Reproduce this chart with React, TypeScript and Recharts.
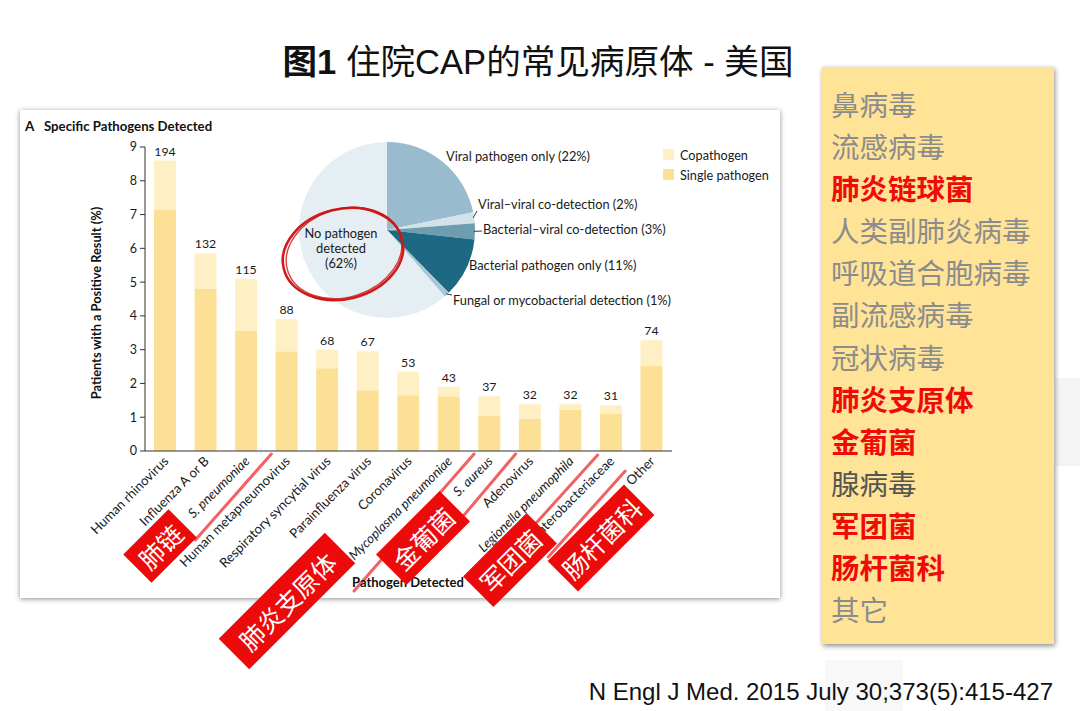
import React from 'react';
import { ComposedChart, Bar, XAxis, YAxis, LabelList, PieChart, Pie, Cell } from 'recharts';

// ---------- data ----------
const categories = [
  'Human rhinovirus',
  'Influenza A or B',
  'S. pneumoniae',
  'Human metapneumovirus',
  'Respiratory syncytial virus',
  'Parainfluenza virus',
  'Coronavirus',
  'Mycoplasma pneumoniae',
  'S. aureus',
  'Adenovirus',
  'Legionella pneumophila',
  'Enterobacteriaceae',
  'Other',
];
const singleValues = [7.15, 4.8, 3.55, 2.95, 2.45, 1.8, 1.65, 1.62, 1.05, 0.95, 1.22, 1.1, 2.52];
const coValues = [1.45, 1.05, 1.55, 0.95, 0.55, 1.15, 0.7, 0.28, 0.57, 0.45, 0.18, 0.25, 0.76];
const patientCounts = [194, 132, 115, 88, 68, 67, 53, 43, 37, 32, 32, 31, 74];
const yTicks = [0, 1, 2, 3, 4, 5, 6, 7, 8, 9];
const italicCategories = ['S. pneumoniae', 'Mycoplasma pneumoniae', 'S. aureus', 'Legionella pneumophila'];
const legendLabels = ['Copathogen', 'Single pathogen'];

const pieNames = [
  'Viral pathogen only (22%)',
  'Viral\u2013viral co-detection (2%)',
  'Bacterial\u2013viral co-detection (3%)',
  'Bacterial pathogen only (11%)',
  'Fungal or mycobacterial detection (1%)',
  'No pathogen detected (62%)',
];
const pieValues = [22, 2, 3, 11, 1, 62];
const pieColors = ['#98BCCD', '#D3E1E9', '#6E9DB1', '#1D6983', '#A6C8D6', '#E5EEF3'];

const listItems = ['鼻病毒', '流感病毒', '肺炎链球菌', '人类副肺炎病毒', '呼吸道合胞病毒', '副流感病毒', '冠状病毒', '肺炎支原体', '金葡菌', '腺病毒', '军团菌', '肠杆菌科', '其它'];
const listKinds = ['g', 'g', 'r', 'g', 'g', 'g', 'g', 'r', 'r', 'd', 'r', 'r', 'g'];

const stamps = ['肺链', '肺炎支原体', '金葡菌', '军团菌', '肠杆菌科'];

// ---------- built tables ----------
const barData = categories.map((name, i) => ({
  name,
  single: singleValues[i],
  co: coValues[i],
  count: patientCounts[i],
}));
const pieData = pieNames.map((name, i) => ({ name, value: pieValues[i] }));

// ---------- styles / layout ----------
const FONT = 'Lato, "Open Sans", sans-serif';
const CJK = '"Noto Sans CJK SC", sans-serif';
const TITLE_FONT = '"Liberation Sans", "Noto Sans CJK SC", sans-serif';
const SINGLE_COLOR = '#FCE096';
const CO_COLOR = '#FEF0C4';
const legendColors = [CO_COLOR, SINGLE_COLOR];

// red annotation strokes under tick labels, relative to tick anchor
const strikeOffsets: Record<string, number[]> = {
  'S. pneumoniae': [25, 3, -51, 89],
  'Mycoplasma pneumoniae': [25, 3, -95, 140],
  'S. aureus': [26, 3, -28, 67],
  'Legionella pneumophila': [27, 4, -76, 118],
  'Enterobacteriaceae': [14, 20, -63, 106],
};

// stamp layout: center x, center y, width, height
const stampLayout = [
  [160, 546, 64, 40],
  [287, 601, 150, 43],
  [423, 538, 90, 43],
  [510, 560, 90, 43],
  [601, 538, 108, 43],
];

const XTick = (props: any) => {
  const { x, y, payload } = props;
  const name: string = payload.value;
  const italic = italicCategories.includes(name);
  const s = strikeOffsets[name];
  const tx = x + 4;
  const ty = y + 11;
  return (
    <g>
      {s && (
        <line
          x1={x + s[0]}
          y1={y + s[1]}
          x2={x + s[2]}
          y2={y + s[3]}
          stroke="#F04646"
          strokeOpacity={0.85}
          strokeWidth={3}
          strokeLinecap="round"
        />
      )}
      <text
        x={tx}
        y={ty}
        transform={`rotate(-45 ${tx} ${ty})`}
        textAnchor="end"
        fontSize={13.2}
        fontFamily={FONT}
        fontStyle={italic ? 'italic' : 'normal'}
        fill="#1a1a1a"
      >
        {name}
      </text>
    </g>
  );
};

const pieLayout: any[] = [
  { tx: 59, ty: -74 },
  { lx: 90, ly: -19, tx: 91, ty: -26 },
  { lx: 95, ly: 1, tx: 96, ty: -1 },
  { tx: 82, ty: 35 },
  { lx: 65, ly: 65, tx: 66, ty: 70 },
  { tx: -46, ty: 8, center: true },
];

const renderPieLabel = (p: any) => {
  const { cx, cy, midAngle, outerRadius, index } = p;
  const L = pieLayout[index];
  const RAD = Math.PI / 180;
  const ex = cx + (outerRadius - 1) * Math.cos(-midAngle * RAD);
  const ey = cy + (outerRadius - 1) * Math.sin(-midAngle * RAD);
  if (L.center) {
    return (
      <text x={cx + L.tx} y={cy + L.ty} textAnchor="middle" fontSize={12.8} fontFamily={FONT} fill="#1a1a1a">
        <tspan x={cx + L.tx} dy={0}>No pathogen</tspan>
        <tspan x={cx + L.tx} dy={14.5}>detected</tspan>
        <tspan x={cx + L.tx} dy={15.5}>(62%)</tspan>
      </text>
    );
  }
  return (
    <g>
      {L.lx !== undefined && (
        <line x1={ex} y1={ey} x2={cx + L.lx} y2={cy + L.ly} stroke="#222" strokeWidth={0.9} />
      )}
      <text
        x={cx + L.tx}
        y={cy + L.ty}
        dominantBaseline="central"
        textAnchor="start"
        fontSize={12.8}
        fontFamily={FONT}
        fill="#1a1a1a"
      >
        {pieNames[index]}
      </text>
    </g>
  );
};

export default function App() {
  return (
    <div
      style={{
        position: 'absolute',
        left: 0,
        top: 0,
        width: 1080,
        height: 711,
        background: '#fff',
        overflow: 'hidden',
      }}
    >
      {/* faint background shapes */}
      <div style={{ position: 'absolute', left: 1055, top: 378, width: 25, height: 88, background: '#F5F5F5' }} />
      <div style={{ position: 'absolute', left: 825, top: 660, width: 78, height: 51, background: '#F8F8F8' }} />

      {/* title */}
      <div
        style={{
          position: 'absolute',
          left: 0,
          top: 38,
          width: 1076,
          textAlign: 'center',
          fontFamily: TITLE_FONT,
          fontSize: 34.6,
          lineHeight: '48px',
          fontWeight: 400,
          color: '#111',
          whiteSpace: 'nowrap',
        }}
      >
        <span style={{ fontWeight: 700 }}>图1</span> 住院CAP的常见病原体 - 美国
      </div>

      {/* chart card */}
      <div
        style={{
          position: 'absolute',
          left: 20,
          top: 110,
          width: 760,
          height: 488,
          background: '#fff',
          boxShadow: '0 1px 5px rgba(0,0,0,0.45)',
        }}
      />

      {/* bar chart */}
      <div style={{ position: 'absolute', left: 0, top: 0 }}>
        <ComposedChart
          width={800}
          height={620}
          data={barData}
          margin={{ top: 147, right: 128, bottom: 9, left: 105 }}
          barSize={22}
        >
          <XAxis
            dataKey="name"
            interval={0}
            height={160}
            tickLine={false}
            tickSize={0}
            tickMargin={0}
            axisLine={{ stroke: '#333', strokeWidth: 1 }}
            tick={XTick}
          />
          <YAxis
            width={40}
            domain={[0, 9]}
            ticks={yTicks}
            interval={0}
            tickSize={5}
            tickMargin={3}
            axisLine={{ stroke: '#333', strokeWidth: 1 }}
            tickLine={{ stroke: '#333', strokeWidth: 1 }}
            tick={{ fontSize: 12.5, fill: '#1a1a1a', fontFamily: FONT }}
          />
          <Bar dataKey="single" stackId="a" fill={SINGLE_COLOR} isAnimationActive={false} />
          <Bar dataKey="co" stackId="a" fill={CO_COLOR} isAnimationActive={false}>
            <LabelList dataKey="count" position="top" offset={5} fontSize={12.3} fill="#1a1a1a" fontFamily={FONT} />
          </Bar>
        </ComposedChart>
      </div>

      {/* pie chart */}
      <div style={{ position: 'absolute', left: 0, top: 0 }}>
        <PieChart width={800} height={620}>
          <Pie
            data={pieData}
            dataKey="value"
            cx={382}
            cy={225}
            outerRadius={88}
            startAngle={90}
            endAngle={-270}
            stroke="none"
            label={renderPieLabel}
            labelLine={false}
            isAnimationActive={false}
          >
            {pieData.map((d, i) => (
              <Cell key={d.name} fill={pieColors[i]} />
            ))}
          </Pie>
        </PieChart>
      </div>

      {/* overlay text + annotations */}
      <svg width={1080} height={711} style={{ position: 'absolute', left: 0, top: 0, pointerEvents: 'none' }}>
        <text x={25} y={131} fontFamily={FONT} fontWeight={700} fontSize={13.5} fill="#111">A</text>
        <text x={44} y={131} fontFamily={FONT} fontWeight={700} fontSize={13.2} fill="#111">
          Specific Pathogens Detected
        </text>
        <text
          x={101}
          y={303}
          transform="rotate(-90 101 303)"
          textAnchor="middle"
          fontFamily={FONT}
          fontWeight={700}
          fontSize={12.8}
          fill="#111"
        >
          Patients with a Positive Result (%)
        </text>
        <text x={408} y={587} textAnchor="middle" fontFamily={FONT} fontWeight={700} fontSize={13} fill="#111">
          Pathogen Detected
        </text>

        {/* legend */}
        {legendLabels.map((t, i) => (
          <g key={t}>
            <rect x={663} y={149 + i * 20} width={11} height={11} fill={legendColors[i]} />
            <text x={680} y={155 + i * 20} dominantBaseline="central" fontFamily={FONT} fontSize={12.7} fill="#1a1a1a">
              {t}
            </text>
          </g>
        ))}

        {/* hand drawn red ellipse */}
        <ellipse cx={343} cy={254} rx={61} ry={45} transform="rotate(-14 343 254)" fill="none" stroke="#D21A1A" strokeWidth={2.6} />
        <ellipse cx={344} cy={253} rx={59} ry={44} transform="rotate(-18 344 253)" fill="none" stroke="#C81414" strokeWidth={1.4} strokeOpacity={0.8} />

        {/* red stamps */}
        {stamps.map((t, i) => {
          const [cx, cy, w, h] = stampLayout[i];
          return (
            <g key={t} transform={`rotate(-45 ${cx} ${cy})`}>
              <rect x={cx - w / 2} y={cy - h / 2} width={w} height={h} fill="#EC0A0A" />
              <text
                x={cx}
                y={cy}
                textAnchor="middle"
                dominantBaseline="central"
                fontFamily={CJK}
                fontSize={25}
                fill="#fff"
              >
                {t}
              </text>
            </g>
          );
        })}
      </svg>

      {/* right panel */}
      <div
        style={{
          position: 'absolute',
          left: 822,
          top: 67,
          width: 232,
          height: 577,
          background: '#FFE498',
          boxShadow: '1px 2px 5px rgba(0,0,0,0.45)',
          boxSizing: 'border-box',
          paddingTop: 16,
          paddingLeft: 9,
        }}
      >
        {listItems.map((t, i) => {
          const k = listKinds[i];
          return (
            <div
              key={t}
              style={{
                fontFamily: CJK,
                fontSize: 28.5,
                lineHeight: '42.1px',
                height: 42.1,
                whiteSpace: 'nowrap',
                fontWeight: k === 'r' ? 700 : 400,
                color: k === 'r' ? '#F00A0A' : k === 'd' ? '#555' : '#8C8C8C',
              }}
            >
              {t}
            </div>
          );
        })}
      </div>

      {/* citation */}
      <div
        style={{
          position: 'absolute',
          right: 27,
          top: 677,
          fontFamily: '"Liberation Sans", Arial, sans-serif',
          fontSize: 24,
          lineHeight: '30px',
          color: '#111',
          whiteSpace: 'nowrap',
        }}
      >
        N Engl J Med. 2015 July 30;373(5):415-427
      </div>
    </div>
  );
}
